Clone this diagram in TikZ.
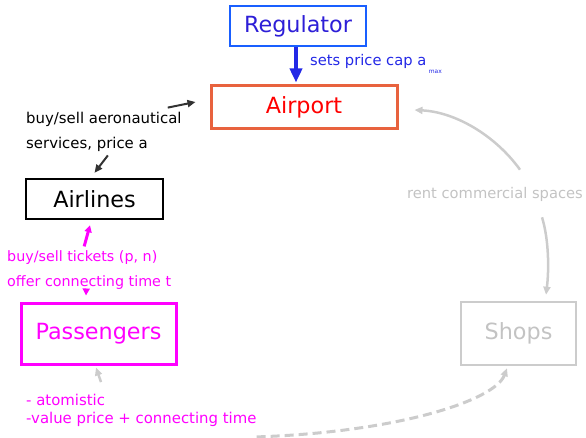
\documentclass[tikz,border=0pt]{standalone}
\usepackage{fontspec}
\setmainfont{DejaVu Sans}
\usepackage{xcolor}
\usetikzlibrary{arrows.meta, positioning}

\definecolor{regblue}{RGB}{25,95,255}
\definecolor{regtext}{RGB}{45,30,215}
\definecolor{capblue}{RGB}{35,40,230}
\definecolor{portline}{RGB}{232,98,62}
\definecolor{darkline}{RGB}{50,50,50}
\definecolor{paxpink}{RGB}{255,0,255}
\definecolor{shopgray}{RGB}{204,204,204}
\definecolor{rentgray}{RGB}{195,195,195}

\begin{document}
\begin{tikzpicture}[x=1pt, y=-1pt,
  box/.style={draw, line width=2.5pt, inner sep=0pt, font=\fontsize{22.3}{26}\selectfont},
  lbl/.style={inner sep=0pt, align=left},
  regarrow/.style={-{Triangle[length=14pt,width=12pt]}, capblue, line width=3.5pt},
  darr/.style={-{Triangle[length=8pt,width=7pt]}, darkline, line width=2pt},
  parr/.style={-{Triangle[length=7pt,width=7pt]}, paxpink, line width=3pt},
  garr/.style={-{Triangle[length=8pt,width=7pt]}, shopgray, line width=2.5pt}]
  \useasboundingbox (0,0) rectangle (586,438);

  % Boxes
  \node[box, draw=regblue, text=regtext, minimum width=136pt, minimum height=40pt] (reg) at (298,26) {Regulator};
  \node[box, draw=portline, text=red, line width=3pt, minimum width=186pt, minimum height=43pt] (airport) at (304,107.5) {Airport};
  \node[box, draw=black, minimum width=137pt, minimum height=40pt] (airlines) at (94.5,199) {Airlines};
  \node[box, draw=paxpink, text=paxpink, line width=3pt, minimum width=155pt, minimum height=61pt] (passengers) at (98.5,333.5) {Passengers};
  \node[box, draw=shopgray, text=rentgray, minimum width=115pt, minimum height=63pt] (shops) at (518.5,333.5) {Shops};

  % Labels
  \node[lbl, anchor=base west, text=capblue, font=\fontsize{14.7}{16}\selectfont] (cap) at (310,66)
    {sets price cap a\,\raisebox{-8pt}{\fontsize{6}{6}\selectfont max}};
  \node[lbl, anchor=west, font=\fontsize{14.9}{25}\selectfont] (aero) at (26,131.5)
    {buy/sell aeronautical\\services, price a};
  \node[lbl, anchor=west, text=paxpink, font=\fontsize{14.3}{25}\selectfont] (tickets) at (7,270)
    {buy/sell tickets (p, n)\\offer connecting time t};
  \node[lbl, anchor=west, text=paxpink, font=\fontsize{14.9}{18}\selectfont] (atom) at (26,410.5)
    {- atomistic\\-value price + connecting time};
  \node[lbl, text=rentgray, font=\fontsize{14.7}{16}\selectfont] (rent) at (495,194) {rent commercial spaces};

  % Arrows
  \draw[regarrow] ([xshift=-2pt]reg.south) -- ([xshift=-8pt,yshift=2pt]airport.north);
  \draw[darr] ([xshift=-14pt,yshift=4pt]aero.north east) -- ([xshift=-14pt,yshift=5.5pt]airport.west);
  \draw[darr] ([xshift=4pt,yshift=-4pt]aero.south) -- ([yshift=5pt]airlines.north);
  \draw[parr] ([xshift=-5pt,yshift=4pt]tickets.north) -- ([xshift=-4.5pt,yshift=-5pt]airlines.south);
  \draw[parr] ([xshift=-3pt]tickets.south) -- ([xshift=-12.5pt,yshift=6pt]passengers.north);
  \draw[garr] ([xshift=75pt,yshift=12pt]atom.north west) -- ([xshift=-2.5pt,yshift=-2pt]passengers.south);
  \draw[garr] ([xshift=25pt,yshift=17pt]rent.north) .. controls (495,135) and (455,112) .. ([xshift=16pt,yshift=-2.5pt]airport.east);
  \draw[garr] ([xshift=47pt,yshift=-16pt]rent.south) .. controls (549,240) and (549,270) .. ([xshift=27.5pt,yshift=6pt]shops.north);
  \draw[garr, line width=3pt, dash pattern=on 9pt off 5pt] ([yshift=-10pt]atom.south east) .. controls (400,432) and (495,400) .. ([xshift=-11.5pt,yshift=-2pt]shops.south);
\end{tikzpicture}
\end{document}
